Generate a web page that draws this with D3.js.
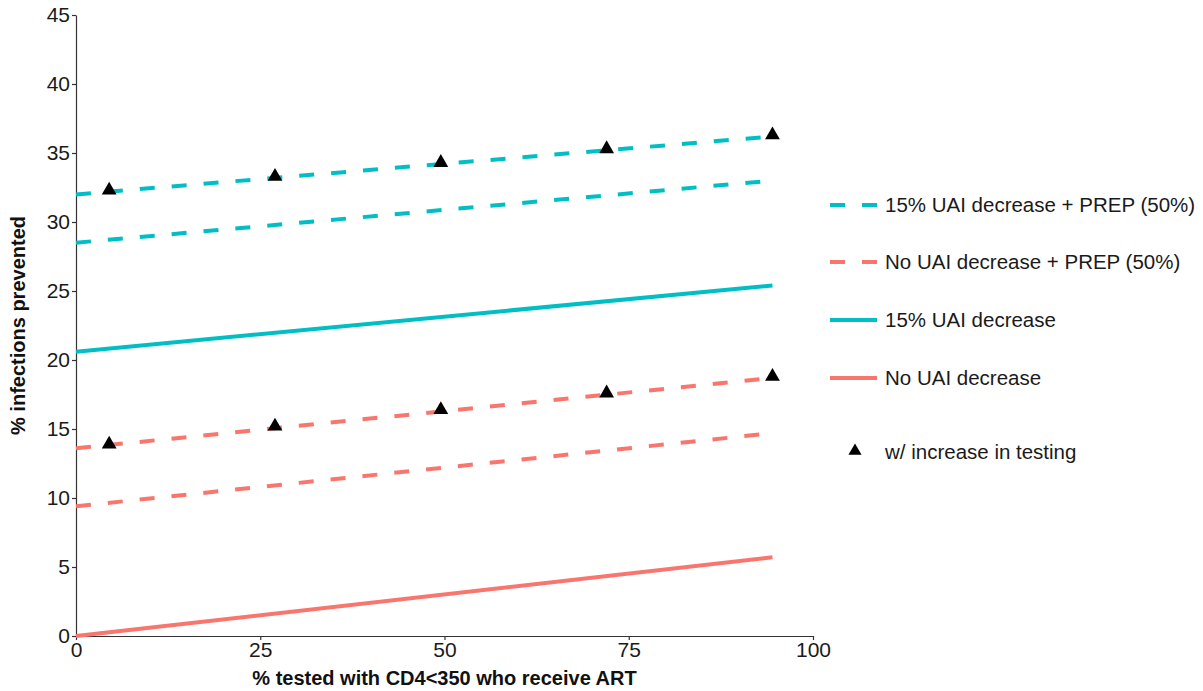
<!DOCTYPE html>
<html>
<head>
<meta charset="utf-8">
<script src="https://cdn.jsdelivr.net/npm/d3@7"></script>
<style>
  body { margin: 0; background: #fff; }
  text { font-family: "Liberation Sans", Arial, sans-serif; }
  .tick text { font-size: 21px; fill: #1a1a1a; }
  .tick line, .domain { stroke: #333; stroke-width: 1.2; }
  .axis_title { font-size: 20px; font-weight: bold; fill: #111; }
  .legend_text { font-size: 20.5px; fill: #1a1a1a; }
</style>
</head>
<body>
<div id="chart"></div>
<script>
// line endpoints (x = % tested receiving ART)
const lineX = [0, 94.5];
const cyanPrep = [32.0, 36.2];
const redPrep = [13.6, 18.7];
const cyanPrepLow = [28.5, 33.0];
const redPrepLow = [9.4, 14.7];
const cyanSolid = [20.6, 25.4];
const redSolid = [0, 5.7];

// triangles: w/ increase in testing
const triX = [4.5, 27, 49.5, 72, 94.5];
const triCyan = [32.3, 33.3, 34.3, 35.3, 36.3];
const triRed = [13.9, 15.2, 16.4, 17.6, 18.8];

const xTicks = [0, 25, 50, 75, 100];
const yTicks = [0, 5, 10, 15, 20, 25, 30, 35, 40, 45];

const legendItems = [
  {label: "15% UAI decrease + PREP (50%)", color: "#00BFC4", dash: true},
  {label: "No UAI decrease + PREP (50%)", color: "#F8766D", dash: true},
  {label: "15% UAI decrease", color: "#00BFC4", dash: false},
  {label: "No UAI decrease", color: "#F8766D", dash: false}
];

const W = 1203, H = 691;
const margin = {top: 15, right: 390, bottom: 55, left: 76};
let width = W - margin.left - margin.right,
    height = H - margin.top - margin.bottom;

let svg = d3.select("#chart")
    .append("svg")
    .attr("width", W)
    .attr("height", H);

let g = svg.append("g")
    .attr("transform", "translate(" + margin.left + "," + margin.top + ")");

let x = d3.scaleLinear().domain([0, 100]).range([0, width]);
let y = d3.scaleLinear().domain([0, 45]).range([height, 0]);

g.append("g")
    .attr("transform", "translate(0," + height + ")")
    .call(d3.axisBottom(x)
        .tickValues(xTicks)
        .tickSizeInner(4)
        .tickSizeOuter(0)
        .tickPadding(2));

g.append("g")
    .call(d3.axisLeft(y)
        .tickValues(yTicks)
        .tickSizeInner(4)
        .tickSizeOuter(0)
        .tickPadding(2));

g.selectAll(".tick text").attr("fill", "#1a1a1a");

const dash = "15,17";
const series = [
  {v: cyanPrep, color: "#00BFC4", dash: true},
  {v: cyanPrepLow, color: "#00BFC4", dash: true},
  {v: cyanSolid, color: "#00BFC4", dash: false},
  {v: redPrep, color: "#F8766D", dash: true},
  {v: redPrepLow, color: "#F8766D", dash: true},
  {v: redSolid, color: "#F8766D", dash: false}
];

let line = d3.line()
    .x(function (d) { return x(d[0]); })
    .y(function (d) { return y(d[1]); });

series.forEach(function (s) {
    g.append("path")
        .datum(lineX.map(function (xv, i) { return [xv, s.v[i]]; }))
        .attr("fill", "none")
        .attr("stroke", s.color)
        .attr("stroke-width", 4)
        .attr("stroke-dasharray", s.dash ? dash : null)
        .attr("d", line);
});

let tri = d3.symbol().type(d3.symbolTriangle).size(95);
[triCyan, triRed].forEach(function (vals) {
    g.selectAll(null)
        .data(triX.map(function (xv, i) { return [xv, vals[i]]; }))
        .enter()
        .append("path")
        .attr("d", tri)
        .attr("fill", "#000")
        .attr("transform", function (d) {
            return "translate(" + x(d[0]) + "," + y(d[1]) + ")";
        });
});

// axis titles
svg.append("text")
    .attr("class", "axis_title")
    .attr("x", margin.left + width / 2)
    .attr("y", 685)
    .attr("text-anchor", "middle")
    .text("% tested with CD4<350 who receive ART");

svg.append("text")
    .attr("class", "axis_title")
    .attr("transform", "translate(25," + (margin.top + height / 2) + ") rotate(-90)")
    .attr("text-anchor", "middle")
    .text("% infections prevented");

// legend
const legY = [205, 262, 320, 378];
let leg = svg.append("g");
legendItems.forEach(function (d, i) {
    let ly = legY[i];
    if (d.dash) {
        leg.append("line").attr("x1", 830).attr("x2", 845).attr("y1", ly).attr("y2", ly)
            .attr("stroke", d.color).attr("stroke-width", 4);
        leg.append("line").attr("x1", 862).attr("x2", 877).attr("y1", ly).attr("y2", ly)
            .attr("stroke", d.color).attr("stroke-width", 4);
    } else {
        leg.append("line").attr("x1", 830).attr("x2", 877).attr("y1", ly).attr("y2", ly)
            .attr("stroke", d.color).attr("stroke-width", 4);
    }
    leg.append("text")
        .attr("class", "legend_text")
        .attr("x", 885)
        .attr("y", ly + 7)
        .text(d.label);
});

leg.append("path")
    .attr("d", d3.symbol().type(d3.symbolTriangle).size(75))
    .attr("fill", "#000")
    .attr("transform", "translate(855,451)");
leg.append("text")
    .attr("class", "legend_text")
    .attr("x", 885)
    .attr("y", 459)
    .text("w/ increase in testing");
</script>
</body>
</html>
